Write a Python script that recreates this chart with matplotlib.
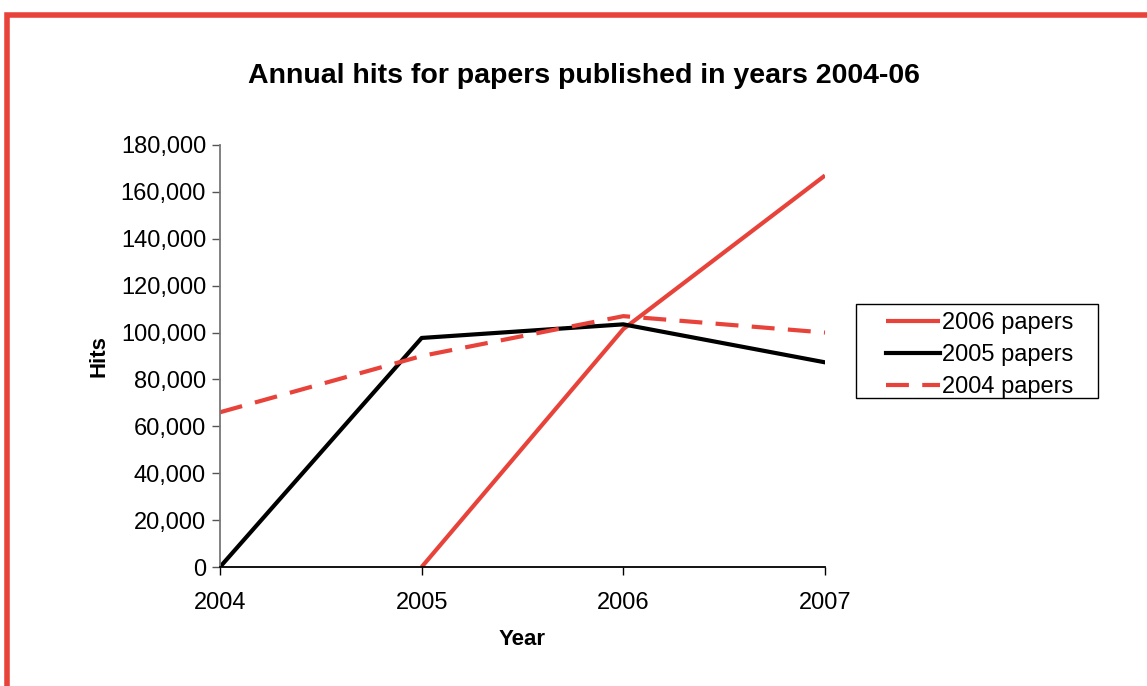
import matplotlib
matplotlib.use('Agg')
import matplotlib.pyplot as plt
from matplotlib.patches import Rectangle
from matplotlib.ticker import FuncFormatter

plt.rcParams['font.family'] = ['Liberation Sans', 'DejaVu Sans']

years = [2004, 2005, 2006, 2007]
hits_2006 = [None, 0, 101500, 167000]
hits_2005 = [0, 97700, 103500, 87300]
hits_2004 = [66000, 90000, 107000, 100000]

RED = '#E8433A'
W, H = 1147, 686

fig = plt.figure(figsize=(W / 100, H / 100), dpi=100)
ax = fig.add_axes([220/W, 1 - 567/H, 605/W, 422/H])

ax.plot(years[1:], hits_2006[1:], color=RED, lw=3, label='2006 papers',
        solid_capstyle='butt')
ax.plot(years, hits_2005, color='black', lw=3, label='2005 papers')
ax.plot(years, hits_2004, color=RED, lw=3, dashes=(5.5, 3.2), label='2004 papers')

ax.set_xlim(2004, 2007)
ax.set_ylim(0, 180000)
ax.set_xticks(years)
ax.set_yticks(range(0, 180001, 20000))
ax.yaxis.set_major_formatter(FuncFormatter(lambda v, p: f'{int(v):,}'))
ax.tick_params(labelsize=17, length=6, width=1, direction='out', pad=4)
ax.tick_params(axis='y', colors='#555555', labelcolor='black')
ax.tick_params(axis='x', pad=12)
for s in ['top', 'right']:
    ax.spines[s].set_visible(False)
ax.spines['left'].set_color('#777777')
ax.spines['left'].set_linewidth(1.3)
ax.spines['bottom'].set_color('black')
ax.spines['bottom'].set_linewidth(1.3)

fig.text(584/W, 1 - 76/H, 'Annual hits for papers published in years 2004-06',
         fontsize=20.5, fontweight='bold', ha='center', va='center')
ax.set_xlabel('Year', fontsize=16, fontweight='bold', labelpad=11)
ax.set_ylabel('Hits', fontsize=16, fontweight='bold', labelpad=8)

# legend: text without frame, box drawn separately (wider than the entries)
leg = ax.legend(loc='upper left', bbox_to_anchor=(879/W, 1 - 305/H),
                bbox_transform=fig.transFigure, fontsize=17, frameon=False,
                handlelength=2.3, handletextpad=0.05, borderpad=0.3,
                labelspacing=0.43, borderaxespad=0)
fig.add_artist(Rectangle((856/W, 1 - 398/H), 242/W, 94/H,
                         transform=fig.transFigure, fill=False,
                         edgecolor='black', lw=1.0))

# red border around the chart area, cut off at right and bottom
fig.add_artist(Rectangle((7.5/W, -0.1), 1.2, 1.1 - 14.5/H,
                         transform=fig.transFigure, fill=False,
                         edgecolor=RED, lw=4, clip_on=False))

fig.savefig('out.png', dpi=100)
